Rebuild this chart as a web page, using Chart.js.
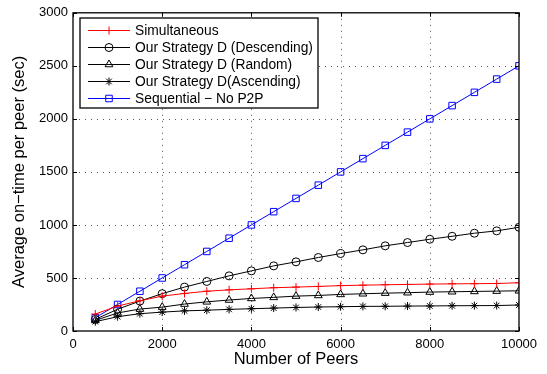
<!DOCTYPE html>
<html lang="en">
<head>
<meta charset="UTF-8" />
<title>Average on-time per peer</title>
<script src="https://cdn.jsdelivr.net/npm/chart.js"></script>
<style>
  html, body { margin: 0; padding: 0; background: #fff; }
  #wrap { width: 547px; height: 374px; }
</style>
</head>
<body>
<div id="wrap"><canvas id="chart" width="547" height="374"></canvas></div>
<script>
// values
const peers = [500, 1000, 1500, 2000, 2500, 3000, 3500, 4000, 4500, 5000,
               5500, 6000, 6500, 7000, 7500, 8000, 8500, 9000, 9500, 10000];
const simultaneous = [160, 235, 285, 329, 354, 375, 388, 398, 408, 414,
                      420, 428, 432, 436, 439, 442, 445, 446, 448, 455];
const descending = [110, 205, 282, 352, 414, 467, 520, 567, 614, 652,
                    693, 730, 765, 803, 834, 865, 893, 922, 944, 978];
const random = [100, 170, 207, 225, 254, 275, 292, 307, 317, 329,
                335, 345, 351, 357, 361, 367, 370, 373, 376, 379];
const ascending = [88, 135, 163, 178, 190, 196, 204, 210, 216, 222,
                   226, 229, 232, 233, 235, 236, 238, 239, 240, 245];
const sequential = [125, 250, 375, 500, 625, 750, 875, 1000, 1125, 1250,
                    1375, 1500, 1625, 1750, 1875, 2000, 2125, 2250, 2375, 2500];

const seriesNames = ['Simultaneous', 'Our Strategy D (Descending)', 'Our Strategy D (Random)',
                     'Our Strategy D(Ascending)', 'Sequential \u2212 No P2P'];
const seriesData = [simultaneous, descending, random, ascending, sequential];
const seriesColors = ['#ff0000', '#000000', '#000000', '#000000', '#0000ff'];
const seriesMarkers = ['cross', 'circle', 'triangle', 'star', 'rect'];
const markerSizes = [4, 4, 4.5, 4, 4.6];

const FONT = '"Liberation Sans", Arial, Helvetica, sans-serif';

const datasets = seriesData.map((vals, i) => ({
  label: seriesNames[i],
  data: vals.map((v, j) => ({ x: peers[j], y: v })),
  borderColor: seriesColors[i],
  backgroundColor: 'rgba(0,0,0,0)',
  borderWidth: 1,
  pointStyle: seriesMarkers[i],
  pointRadius: markerSizes[i],
  pointBorderColor: seriesColors[i],
  pointBackgroundColor: 'rgba(0,0,0,0)',
  pointBorderWidth: 1,
  tension: 0
}));

// dotted grid, boxed frame and inward ticks like matlab
const framePlugin = {
  id: 'frame',
  beforeDatasetsDraw(chart) {
    const { ctx, chartArea: a, scales } = chart;
    ctx.save();
    ctx.strokeStyle = '#555';
    ctx.lineWidth = 1;
    ctx.setLineDash([1, 5]);
    scales.x.ticks.forEach(t => {
      const px = Math.round(scales.x.getPixelForValue(t.value)) + 0.5;
      if (px <= a.left + 1 || px >= a.right - 1) return;
      ctx.beginPath(); ctx.moveTo(px, a.top); ctx.lineTo(px, a.bottom); ctx.stroke();
    });
    scales.y.ticks.forEach(t => {
      const py = Math.round(scales.y.getPixelForValue(t.value)) + 0.5;
      if (py <= a.top + 1 || py >= a.bottom - 1) return;
      ctx.beginPath(); ctx.moveTo(a.left, py); ctx.lineTo(a.right, py); ctx.stroke();
    });
    ctx.restore();
  },
  afterDatasetsDraw(chart) {
    const { ctx, chartArea: a, scales } = chart;
    ctx.save();
    ctx.strokeStyle = '#000';
    ctx.lineWidth = 1.3;
    ctx.strokeRect(a.left, a.top, a.right - a.left, a.bottom - a.top);
    ctx.lineWidth = 1;
    const len = 4;
    scales.x.ticks.forEach(t => {
      const px = Math.round(scales.x.getPixelForValue(t.value)) + 0.5;
      ctx.beginPath();
      ctx.moveTo(px, a.bottom); ctx.lineTo(px, a.bottom - len);
      ctx.moveTo(px, a.top); ctx.lineTo(px, a.top + len);
      ctx.stroke();
    });
    scales.y.ticks.forEach(t => {
      const py = Math.round(scales.y.getPixelForValue(t.value)) + 0.5;
      ctx.beginPath();
      ctx.moveTo(a.left, py); ctx.lineTo(a.left + len, py);
      ctx.moveTo(a.right, py); ctx.lineTo(a.right - len, py);
      ctx.stroke();
    });
    ctx.restore();
  }
};

// legend box in upper left corner
const legendPlugin = {
  id: 'boxLegend',
  afterDraw(chart) {
    const { ctx } = chart;
    const bx = 80, by = 18, bw = 238, bh = 90;
    ctx.save();
    ctx.fillStyle = '#fff';
    ctx.fillRect(bx, by, bw, bh);
    ctx.strokeStyle = '#000';
    ctx.lineWidth = 1.3;
    ctx.strokeRect(bx, by, bw, bh);
    ctx.font = '13.8px ' + FONT;
    ctx.textBaseline = 'middle';
    chart.data.datasets.forEach((ds, i) => {
      const y = by + 12.5 + i * 17;
      ctx.strokeStyle = ds.borderColor;
      ctx.lineWidth = 1;
      ctx.beginPath(); ctx.moveTo(88, y); ctx.lineTo(130, y); ctx.stroke();
      ctx.fillStyle = 'rgba(0,0,0,0)';
      Chart.helpers.drawPoint(ctx, {
        pointStyle: ds.pointStyle, radius: ds.pointRadius, rotation: 0, borderWidth: 1
      }, 109, y);
      ctx.fillStyle = '#000';
      ctx.fillText(ds.label, 135, y + 0.5);
    });
    ctx.restore();
  }
};

Chart.defaults.font.family = FONT;
Chart.defaults.color = '#000';

const plainTick = v => String(v);

new Chart(document.getElementById('chart'), {
  type: 'line',
  data: { datasets },
  options: {
    responsive: false,
    devicePixelRatio: 1,
    animation: false,
    layout: { padding: { top: 12, right: 28, left: 0, bottom: 0 } },
    plugins: { legend: { display: false }, tooltip: { enabled: false } },
    scales: {
      x: {
        type: 'linear', min: 0, max: 10000,
        afterFit: s => { s.height = 43; },
        grid: { display: false, drawTicks: false },
        border: { display: false },
        ticks: { stepSize: 2000, padding: 6, font: { size: 13 }, maxRotation: 0, callback: plainTick },
        title: { display: true, text: 'Number of Peers', font: { size: 16.5 }, padding: { top: 0, bottom: 5 } }
      },
      y: {
        min: 0, max: 3000,
        afterFit: s => { s.width = 73; },
        grid: { display: false, drawTicks: false },
        border: { display: false },
        ticks: { stepSize: 500, padding: 5, font: { size: 13 }, callback: plainTick },
        title: { display: true, text: 'Average on\u2212time per peer (sec)', font: { size: 16.5 }, padding: { top: 10, bottom: 0 } }
      }
    }
  },
  plugins: [framePlugin, legendPlugin]
});
</script>
</body>
</html>
